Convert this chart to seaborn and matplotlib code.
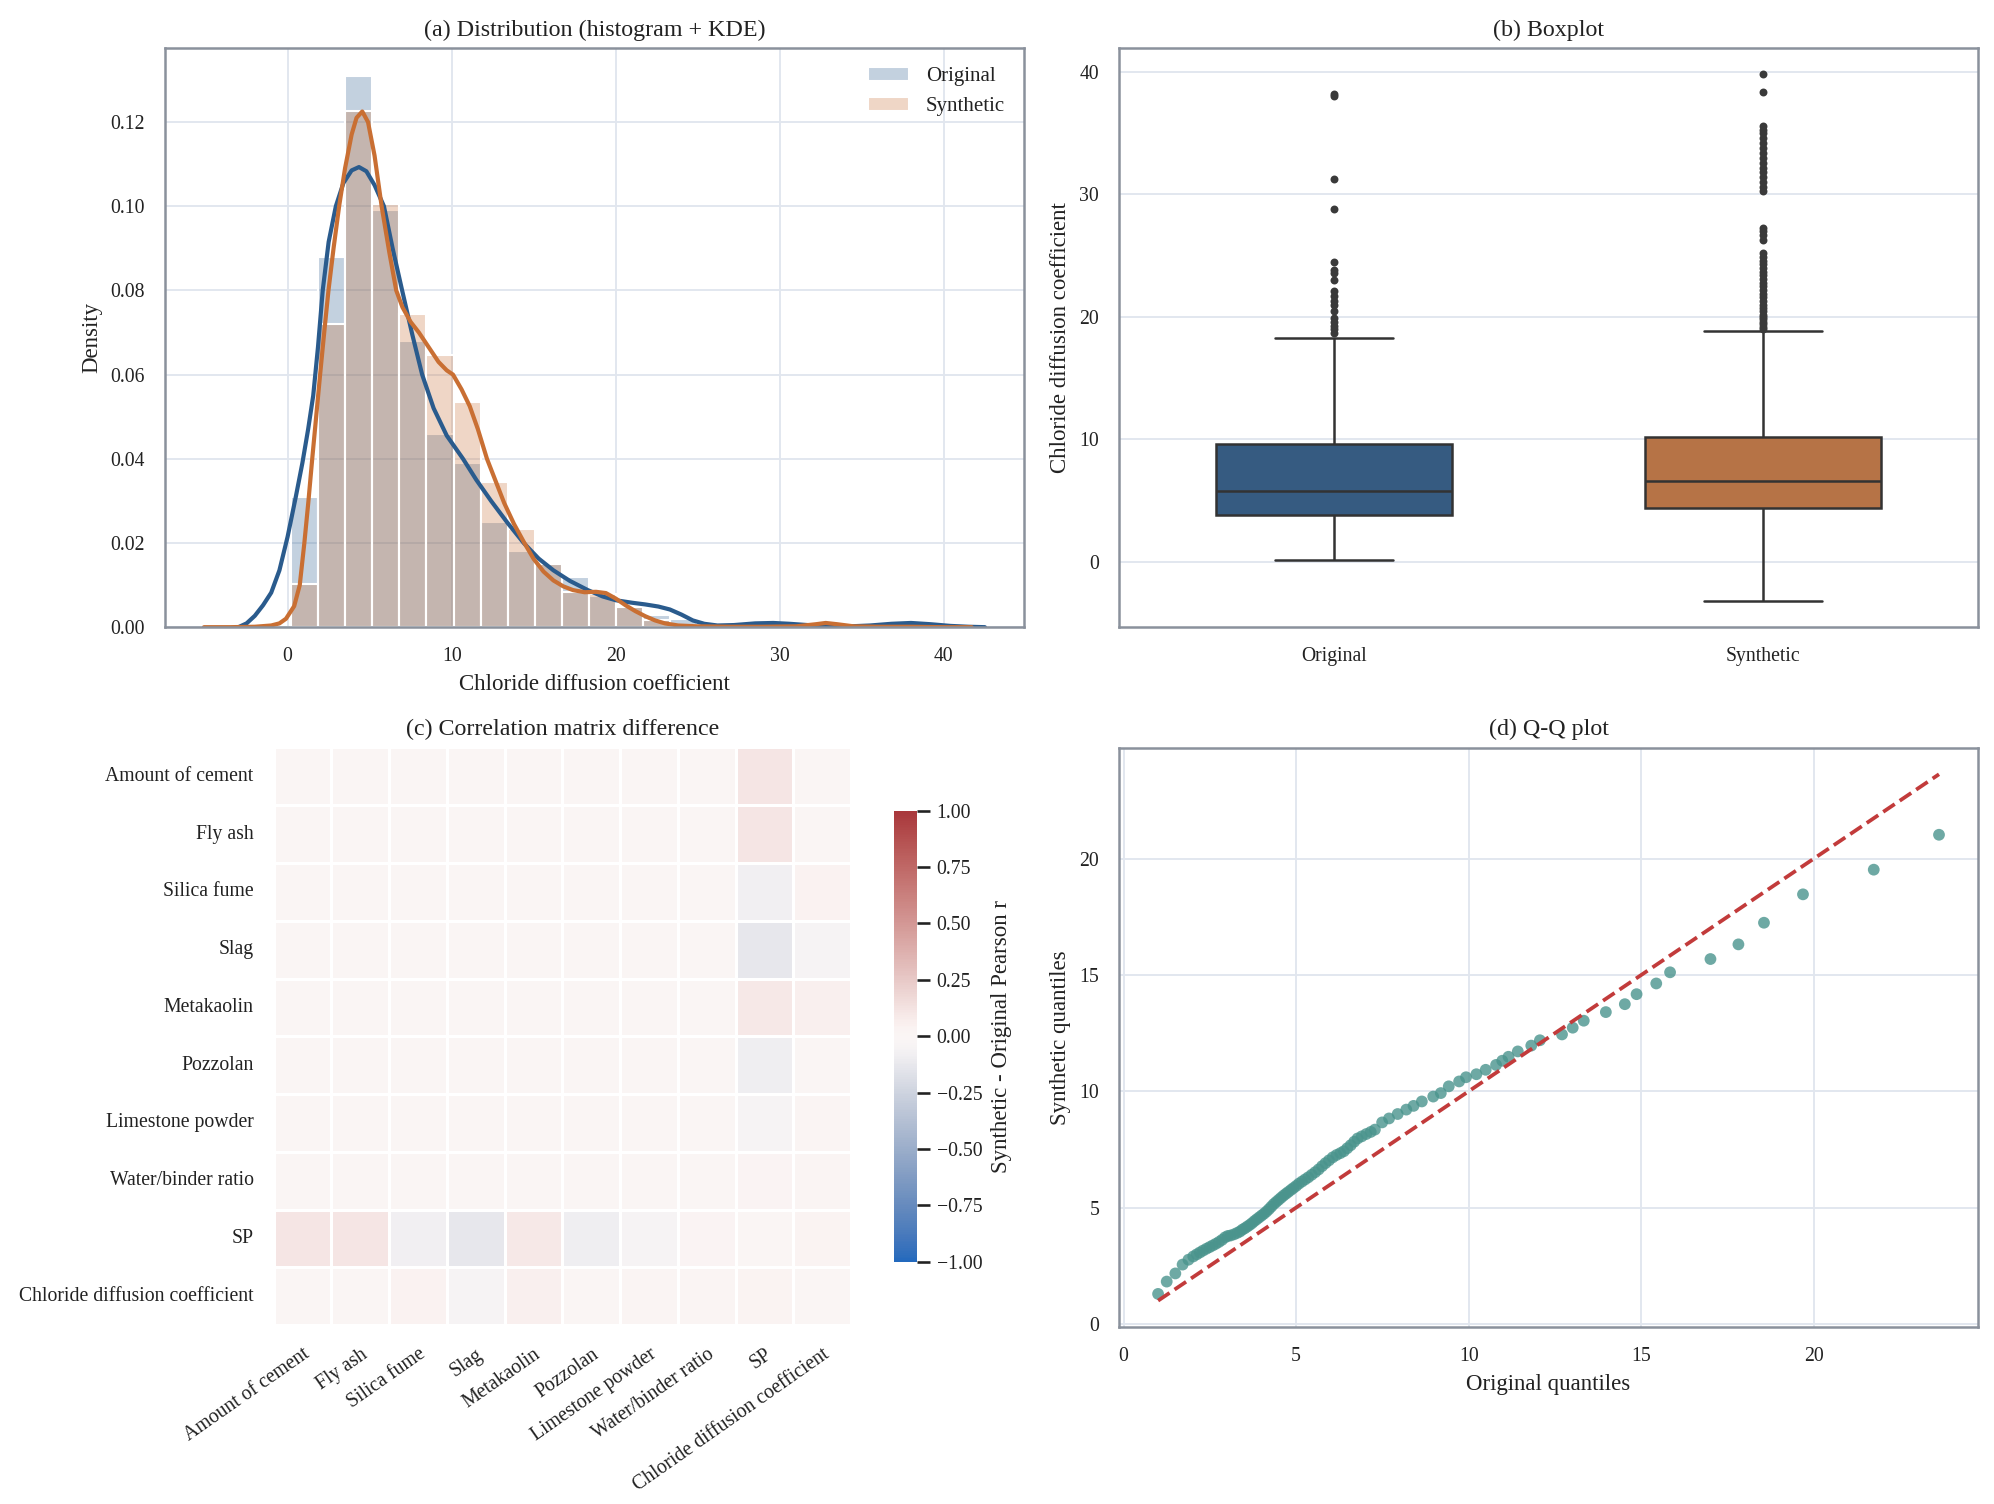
import numpy as np
import pandas as pd
import seaborn as sns
import matplotlib.pyplot as plt

# ---- colours ----
blue = "#2a5b8d"
orange = "#c96f33"
teal = "#4a948d"
red = "#c23b3b"

# ---- (a) histogram (density per bin) ----
hist_min, hist_max, n_bins = 0.2, 38.2, 23
orig_density = [0.031, 0.088, 0.131, 0.099, 0.068, 0.046, 0.039, 0.025, 0.018, 0.015,
                0.012, 0.0075, 0.0049, 0.003, 0.002, 0.0, 0.0, 0.0006, 0.0006, 0.0,
                0.0, 0.0, 0.0012]
synth_density = [0.0103, 0.072, 0.1226, 0.1005, 0.0744, 0.0647, 0.0536, 0.0345, 0.0234, 0.0150,
                 0.0083, 0.0078, 0.0049, 0.0016, 0.0004, 0.0, 0.0, 0.0, 0.0, 0.0006,
                 0.0, 0.0, 0.0]

# KDE curves
kde_orig_x = [-3.0, -2.5, -2.0, -1.5, -1.0, -0.5, 0.0, 0.5, 0.9, 1.25, 1.56, 1.85, 2.14, 2.5,
              2.94, 3.4, 3.9, 4.35, 4.8, 5.3, 5.87, 6.4, 6.98, 7.6, 8.2, 8.9, 9.7, 10.69,
              11.5, 12.4, 13.4, 14.39, 15.3, 16.2, 17.2, 18.3, 19.2, 20.0, 21.0, 21.8, 22.6,
              23.3, 24.0, 24.7, 25.4, 26.2, 27.2, 28.5, 29.6, 30.6, 31.7, 33.0, 34.3, 35.5,
              36.8, 38.0, 39.2, 40.4, 41.5, 42.5]
kde_orig_y = [0.0, 0.0009, 0.0027, 0.0052, 0.0082, 0.0135, 0.0215, 0.031, 0.039, 0.047,
              0.055, 0.0665, 0.080, 0.0915, 0.100, 0.1055, 0.1085, 0.1093, 0.1083, 0.105,
              0.100, 0.090, 0.080, 0.0695, 0.060, 0.052, 0.0455, 0.040, 0.035, 0.030, 0.0248,
              0.020, 0.0163, 0.0135, 0.011, 0.0088, 0.0073, 0.0064, 0.0058, 0.0054, 0.0049,
              0.0042, 0.003, 0.0016, 0.0008, 0.0004, 0.0005, 0.0009, 0.001, 0.0008, 0.0005,
              0.0002, 0.0002, 0.0004, 0.0008, 0.001, 0.0007, 0.0003, 0.0001, 0.0]
kde_synth_x = [-5.1, -3.5, -2.0, -1.0, -0.5, -0.1, 0.4, 0.74, 1.02, 1.27, 1.5, 1.74, 1.98, 2.23,
               2.49, 2.8, 3.14, 3.5, 3.9, 4.2, 4.55, 4.9, 5.3, 5.73, 6.2, 6.62, 7.0, 7.5, 8.0,
               8.6, 9.2, 9.7, 10.08, 10.6, 11.1, 11.6, 12.15, 12.7, 13.2, 13.8, 14.43, 15.0,
               15.6, 16.2, 16.8, 17.4, 18.1, 18.8, 19.4, 20.0, 20.6, 21.2, 21.8, 22.4, 23.0,
               23.8, 25.0, 27.0, 29.0, 31.0, 32.2, 32.8, 33.5, 34.5, 36.0, 38.0, 40.0, 41.7]
kde_synth_y = [0.0, 0.0, 0.0001, 0.0004, 0.0009, 0.002, 0.005, 0.010, 0.020, 0.030, 0.040,
               0.050, 0.060, 0.070, 0.080, 0.090, 0.100, 0.109, 0.117, 0.121, 0.1225, 0.120,
               0.112, 0.100, 0.089, 0.080, 0.076, 0.0725, 0.070, 0.0665, 0.063, 0.061, 0.060,
               0.0565, 0.0525, 0.047, 0.040, 0.0345, 0.0295, 0.0245, 0.020, 0.0162, 0.0132,
               0.0111, 0.0097, 0.0088, 0.0083, 0.0084, 0.0081, 0.0068, 0.0052, 0.0038, 0.0026,
               0.0016, 0.0009, 0.0004, 0.0002, 0.0001, 0.0001, 0.0002, 0.0007, 0.001, 0.0007,
               0.0002, 0.0001, 0.0001, 0.0, 0.0]

# ---- (b) boxplot summary ----
box_groups = ["Original", "Synthetic"]
box_whislo = [0.18, -3.18]
box_q1 = [3.84, 4.39]
box_med = [5.82, 6.63]
box_q3 = [9.63, 10.18]
box_whishi = [18.26, 18.85]
orig_outliers = [18.7, 19.0, 19.3, 19.6, 19.9, 20.5, 21.0, 21.3, 21.7, 22.1, 23.05, 23.6,
                 23.8, 24.5, 28.8, 31.3, 38.0, 38.2]
synth_outliers = [19.0, 19.2, 19.4, 19.6, 19.8, 20.0, 20.2, 20.5, 20.7, 21.0, 21.3, 21.6,
                  21.9, 22.2, 22.5, 22.8, 23.1, 23.4, 23.7, 24.0, 24.3, 24.6, 24.9, 25.2,
                  26.3, 26.7, 27.0, 27.3, 30.3, 30.6, 31.0, 31.4, 31.8, 32.2, 32.6, 33.0,
                  33.4, 33.8, 34.2, 34.6, 35.0, 35.3, 35.6, 38.4, 39.8]

# ---- (c) correlation difference ----
features = ["Amount of cement", "Fly ash", "Silica fume", "Slag", "Metakaolin", "Pozzolan",
            "Limestone powder", "Water/binder ratio", "SP", "Chloride diffusion coefficient"]
base_diff = 0.015
sp_diff = [0.11, 0.11, -0.08, -0.13, 0.10, -0.09, -0.05, 0.03, 0.0, 0.035]
cdc_diff = [0.012, 0.008, 0.04, -0.05, 0.06, 0.012, 0.02, 0.02, 0.035, 0.0]

# ---- (d) Q-Q ----
qq_orig = [1.00, 1.25, 1.50, 1.71, 1.88, 2.02, 2.12, 2.21, 2.30, 2.40, 2.49, 2.58, 2.67, 2.76,
           2.85, 2.94, 3.02, 3.10, 3.20, 3.29, 3.37, 3.44, 3.51, 3.58, 3.65, 3.72, 3.79, 3.86,
           3.93, 4.00, 4.07, 4.14, 4.21, 4.28, 4.35, 4.42, 4.49, 4.56, 4.63, 4.70, 4.77, 4.85,
           4.92, 5.00, 5.08, 5.17, 5.26, 5.35, 5.45, 5.55, 5.65, 5.75, 5.85, 5.95, 6.06, 6.17,
           6.28, 6.38, 6.48, 6.58, 6.68, 6.78, 6.90, 7.03, 7.16, 7.28, 7.49, 7.69, 7.94, 8.19,
           8.40, 8.64, 8.97, 9.19, 9.42, 9.72, 9.92, 10.22, 10.49, 10.79, 10.97, 11.15, 11.42,
           11.81, 12.06, 12.70, 13.01, 13.33, 13.97, 14.52, 14.86, 15.43, 15.83, 17.00, 17.81,
           18.55, 19.68, 21.73, 23.62]
qq_synth = [1.29, 1.82, 2.17, 2.55, 2.76, 2.90, 2.99, 3.07, 3.15, 3.23, 3.30, 3.37, 3.44, 3.52,
            3.61, 3.72, 3.78, 3.80, 3.85, 3.91, 3.97, 4.05, 4.11, 4.18, 4.25, 4.33, 4.42, 4.50,
            4.58, 4.66, 4.74, 4.83, 4.93, 5.04, 5.15, 5.24, 5.33, 5.42, 5.51, 5.59, 5.67, 5.76,
            5.84, 5.93, 6.03, 6.12, 6.21, 6.30, 6.41, 6.52, 6.64, 6.78, 6.91, 7.03, 7.16, 7.26,
            7.34, 7.42, 7.55, 7.68, 7.83, 7.97, 8.06, 8.16, 8.25, 8.35, 8.66, 8.83, 9.02, 9.21,
            9.37, 9.56, 9.77, 9.92, 10.21, 10.42, 10.60, 10.73, 10.92, 11.13, 11.31, 11.48, 11.71,
            11.96, 12.19, 12.44, 12.73, 13.03, 13.40, 13.74, 14.17, 14.63, 15.11, 15.68, 16.31,
            17.24, 18.46, 19.52, 21.02]

# ---- style ----
sns.set_theme(style="whitegrid", rc={
    "axes.edgecolor": "#8a919c",
    "axes.linewidth": 1.2,
    "grid.color": "#e1e6ee",
    "grid.linewidth": 0.9,
    "text.color": "#222222",
    "axes.labelcolor": "#222222",
    "xtick.color": "#222222",
    "ytick.color": "#222222",
    "axes.titlesize": 11.5,
    "axes.labelsize": 11,
    "xtick.labelsize": 9.5,
    "ytick.labelsize": 9.5,
    "legend.fontsize": 10,
})
plt.rcParams["font.family"] = ["Liberation Serif", "DejaVu Serif"]

fig = plt.figure(figsize=(1994 / 150, 1504 / 150), dpi=150)
ax_a = fig.add_axes([0.0827, 0.583, 0.4308, 0.385])
ax_b = fig.add_axes([0.5612, 0.583, 0.4308, 0.385])
ax_c = fig.add_axes([0.137, 0.119, 0.290, 0.384])
cax = fig.add_axes([0.4483, 0.161, 0.0115, 0.300])
ax_d = fig.add_axes([0.5612, 0.1177, 0.4308, 0.385])

# (a)
bin_w = (hist_max - hist_min) / n_bins
centers = hist_min + bin_w * (np.arange(n_bins) + 0.5)
hist_o = pd.DataFrame({"x": centers, "w": orig_density})
hist_s = pd.DataFrame({"x": centers, "w": synth_density})
for df, col, lab in [(hist_o, blue, "Original"), (hist_s, orange, "Synthetic")]:
    sns.histplot(data=df, x="x", weights="w", binwidth=bin_w, binrange=(hist_min, hist_max),
                 stat="count", color=col, alpha=0.28, edgecolor="white", linewidth=1,
                 label=lab, ax=ax_a)
sns.lineplot(x=kde_orig_x, y=kde_orig_y, color=blue, linewidth=2.0, ax=ax_a)
sns.lineplot(x=kde_synth_x, y=kde_synth_y, color=orange, linewidth=2.0, ax=ax_a)
ax_a.set_xlabel("Chloride diffusion coefficient")
ax_a.set_ylabel("Density")
ax_a.set_title("(a) Distribution (histogram + KDE)")
ax_a.legend(loc="upper right", frameon=False)

rows = []
for i, g in enumerate(box_groups):
    outl = orig_outliers if i == 0 else synth_outliers
    vals = [box_whislo[i]] + [box_q1[i]] * 100 + [box_med[i]] * 100 + [box_q3[i]] * 100 \
        + [box_whishi[i]] + outl
    rows += [(g, v) for v in vals]
box_df = pd.DataFrame(rows, columns=["dataset", "value"])
sns.boxplot(data=box_df, x="dataset", y="value", hue="dataset", palette=[blue, orange],
            width=0.55, linecolor="#333333", linewidth=1.2, legend=False,
            flierprops=dict(marker="o", markersize=2.8, markerfacecolor="#3a3a3a",
                            markeredgecolor="#3a3a3a"), ax=ax_b)
ax_b.set_xlabel("")
ax_b.set_ylabel("Chloride diffusion coefficient")
ax_b.set_title("(b) Boxplot")

# (c)
diff = np.full((len(features), len(features)), base_diff)
np.fill_diagonal(diff, 0.0)
diff[8, :] = sp_diff
diff[:, 8] = sp_diff
diff[9, :] = cdc_diff
diff[:, 9] = cdc_diff
diff_df = pd.DataFrame(diff, index=features, columns=features)
sns.heatmap(diff_df, cmap="vlag", vmin=-1, vmax=1, center=0, linewidths=0.6,
            linecolor="white", square=True, ax=ax_c, cbar_ax=cax,
            cbar_kws={"label": "Synthetic - Original Pearson r"})
ax_c.set_title("(c) Correlation matrix difference")
ax_c.set_xticklabels(ax_c.get_xticklabels(), rotation=35, ha="right", rotation_mode="anchor")
ax_c.set_yticklabels(ax_c.get_yticklabels(), rotation=0)
cax.tick_params(labelsize=9.5)
cax.yaxis.label.set_size(11)

# (d)
sns.scatterplot(x=qq_orig, y=qq_synth, color=teal, alpha=0.8, s=32, edgecolor="none", ax=ax_d)
ends = [min(qq_orig), max(qq_orig)]
sns.lineplot(x=ends, y=ends, color=red, linestyle="--", linewidth=1.8, ax=ax_d)
ax_d.set_xlabel("Original quantiles")
ax_d.set_ylabel("Synthetic quantiles")
ax_d.set_title("(d) Q-Q plot")

fig.savefig("out.png", dpi=150)
